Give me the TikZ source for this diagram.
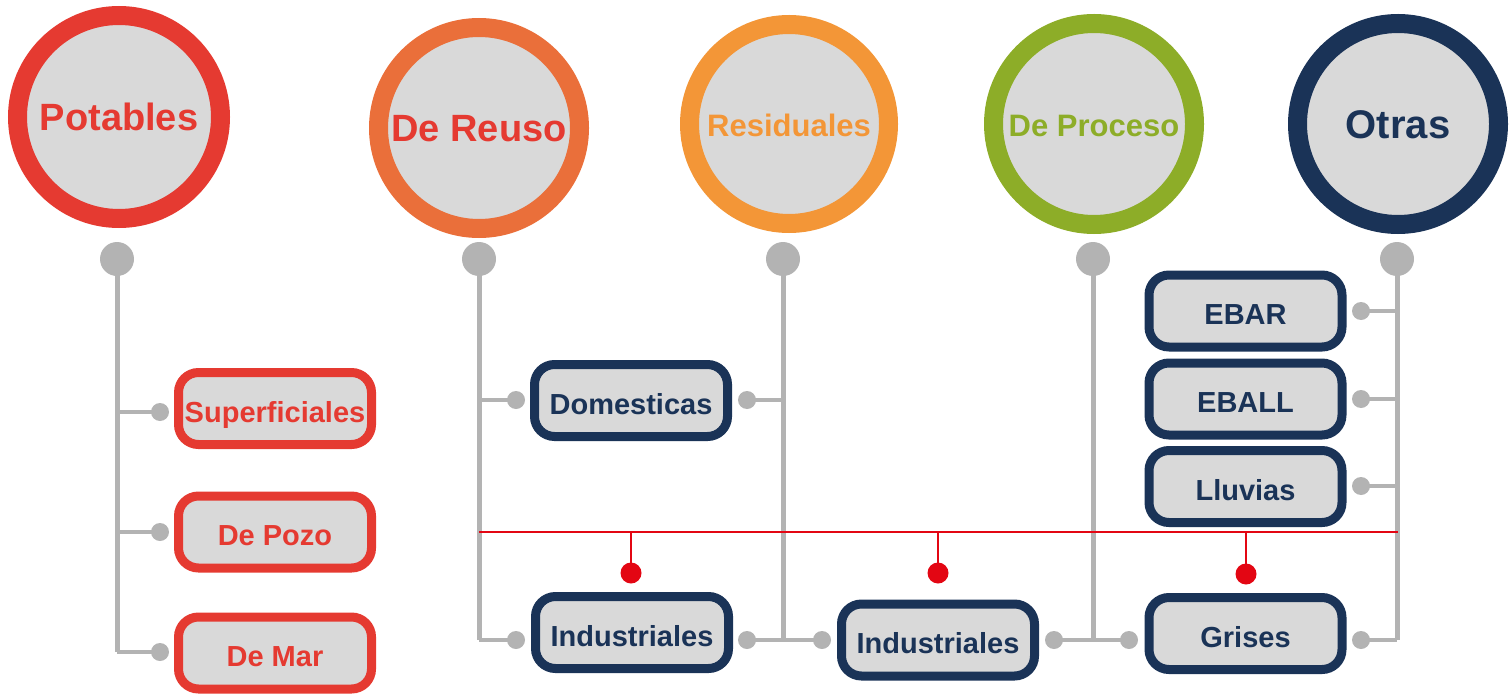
\documentclass[tikz,border=0pt]{standalone}
\usepackage{fontspec}
\setmainfont{Liberation Sans}
\definecolor{cred}{HTML}{E53A31}
\definecolor{corange}{HTML}{EA6F3A}
\definecolor{clorange}{HTML}{F39637}
\definecolor{cgreen}{HTML}{8DAD28}
\definecolor{cnavy}{HTML}{1A3357}
\definecolor{cfill}{HTML}{D9D9D9}
\definecolor{cgray}{HTML}{B3B3B3}
\definecolor{cbus}{HTML}{E30613}
\tikzset{
  ring/.style={circle, minimum size=201bp, inner sep=0pt, line width=19bp, fill=cfill},
  fbig/.style={font=\bfseries\fontsize{38bp}{44bp}\selectfont, text height=27bp, text depth=0bp},
  fmid/.style={font=\bfseries\fontsize{31bp}{36bp}\selectfont, text height=26bp, text depth=0bp},
  fotr/.style={font=\bfseries\fontsize{40bp}{46bp}\selectfont, text height=29bp, text depth=0bp},
  box/.style={rectangle, rounded corners=20bp, minimum width=193bp, minimum height=72bp, inner sep=0pt,
    line width=9bp, fill=cfill, font=\bfseries\fontsize{29bp}{34bp}\selectfont, text height=27bp, text depth=0bp},
  redbox/.style={box, draw=cred, text=cred},
  navybox/.style={box, draw=cnavy, text=cnavy},
  bigdot/.style={circle, fill=cgray, minimum size=34bp, inner sep=0pt},
  smalldot/.style={circle, fill=cgray, minimum size=18bp, inner sep=0pt},
  reddot/.style={circle, fill=cbus, minimum size=21bp, inner sep=0pt},
  vline/.style={draw=cgray, line width=5bp},
  hline/.style={draw=cgray, line width=3.5bp},
  bus/.style={draw=cbus, line width=2.5bp},
}
\begin{document}
\begin{tikzpicture}[x=1bp, y=-1bp]
\useasboundingbox (0,0) rectangle (1512,695);

% main circles
\node[ring, minimum size=203bp, draw=cred, text=cred, fbig] (pot) at (119,117) {Potables};
\node[ring, draw=corange, text=cred, fbig] (reu) at (479,128) {De Reuso};
\node[ring, minimum size=199bp, draw=clorange, text=clorange, fmid] (res) at (789,124) {Residuales};
\node[ring, draw=cgreen, text=cgreen, fmid] (pro) at (1094,124) {De Proceso};
\node[ring, draw=cnavy, text=cnavy, fotr] (otr) at (1398,124) {Otras};

% big dots
\coordinate (bd1) at (117,259);
\coordinate (bd2) at (479,259);
\coordinate (bd3) at (783,259);
\coordinate (bd4) at (1093,259);
\coordinate (bd5) at (1397,259);

% end coordinates of the verticals
\coordinate (e1) at (117,652);
\coordinate (e2) at (479,640);
\coordinate (e3) at (783,640);
\coordinate (e4) at (1093,640);
\coordinate (e5) at (1397,640);

% small dot positions
\coordinate (s1) at (160,412);
\coordinate (s2) at (160,532);
\coordinate (s3) at (160,652);
\coordinate (s4) at (516,400);
\coordinate (s5) at (516,640);
\coordinate (s6) at (747,400);
\coordinate (s7) at (747,640);
\coordinate (s8) at (822,640);
\coordinate (s9) at (1054,640);
\coordinate (s10) at (1129,640);
\coordinate (s11) at (1361,311);
\coordinate (s12) at (1361,399);
\coordinate (s13) at (1361,486);
\coordinate (s14) at (1361,640);

% gray connectors
\draw[vline] (bd1) -- (e1);
\draw[vline] (bd2) -- (e2);
\draw[vline] (bd3) -- (e3);
\draw[vline] (bd4) -- (e4);
\draw[vline] (bd5) -- (e5);
\draw[hline] (bd1 |- s1) -- (s1);
\draw[hline] (bd1 |- s2) -- (s2);
\draw[hline] (e1) -- (s3);
\draw[hline] (bd2 |- s4) -- (s4);
\draw[hline] (e2) -- (s5);
\draw[hline] (s6) -- (bd3 |- s6);
\draw[hline] (s7) -- (s8);
\draw[hline] (s9) -- (s10);
\draw[hline] (s11) -- (bd5 |- s11);
\draw[hline] (s12) -- (bd5 |- s12);
\draw[hline] (s13) -- (bd5 |- s13);
\draw[hline] (s14) -- (e5);

% red bus
\coordinate (busL) at (479,532);
\coordinate (busR) at (1398,532);
\node[reddot] (r1) at (631,573) {};
\node[reddot] (r2) at (938,573) {};
\node[reddot] (r3) at (1246,574) {};
\draw[bus] (busL) -- (busR);
\draw[bus] (r1.center |- busL) -- (r1.center);
\draw[bus] (r2.center |- busL) -- (r2.center);
\draw[bus] (r3.center |- busL) -- (r3.center);

% dots drawn on top
\foreach \d in {bd1,bd2,bd3,bd4,bd5} \node[bigdot] at (\d) {};
\foreach \d in {s1,s2,s3,s4,s5,s6,s7,s8,s9,s10,s11,s12,s13,s14} \node[smalldot] at (\d) {};

% boxes
\node[redbox] (sup) at (275,408.5) {Superficiales};
\node[redbox] (poz) at (275,532) {De Pozo};
\node[redbox] (mar) at (275,653) {De Mar};
\node[navybox] (dom) at (631,400.5) {Domesticas};
\node[navybox] (ind1) at (632,632.5) {Industriales};
\node[navybox] (ind2) at (938,640) {Industriales};
\node[navybox] (gri) at (1245.5,633.5) {Grises};
\node[navybox] (ebar) at (1245.5,311) {EBAR};
\node[navybox] (eball) at (1245.5,399) {EBALL};
\node[navybox] (llu) at (1245.5,486.5) {Lluvias};
\end{tikzpicture}
\end{document}
